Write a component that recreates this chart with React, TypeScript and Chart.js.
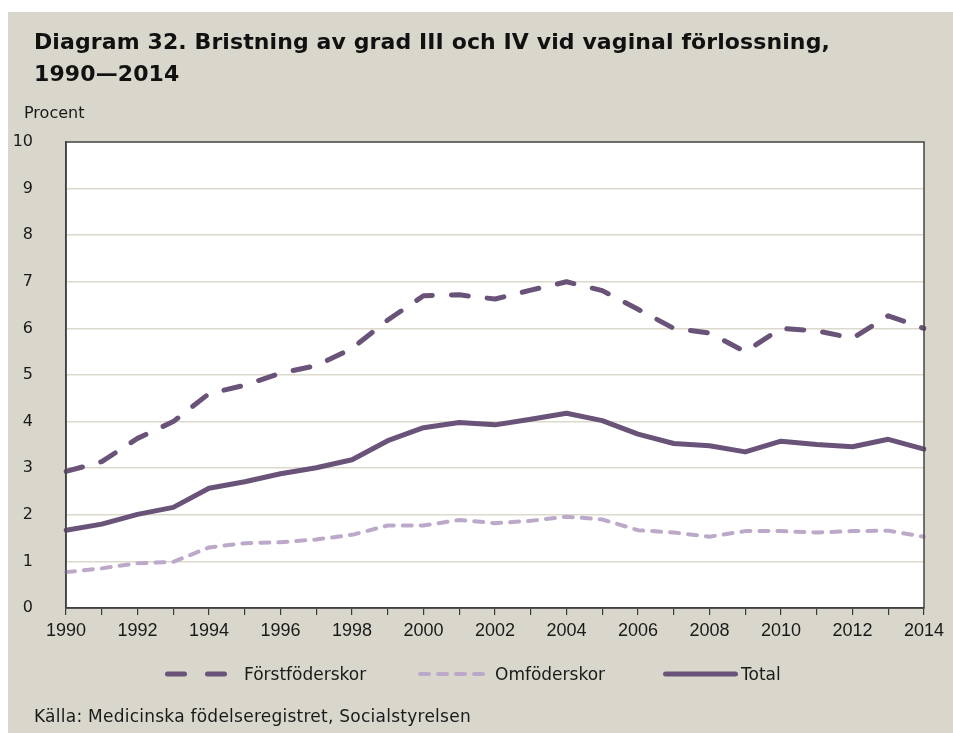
import React, { useEffect, useRef } from "react";
import { Chart, registerables } from "chart.js";

Chart.register(...registerables);

const years = [
  "1990", "1991", "1992", "1993", "1994", "1995", "1996", "1997", "1998", "1999",
  "2000", "2001", "2002", "2003", "2004", "2005", "2006", "2007", "2008", "2009",
  "2010", "2011", "2012", "2013", "2014",
];
const forstfoderskor = [
  2.93, 3.14, 3.64, 4.0, 4.6, 4.78, 5.04, 5.2, 5.57, 6.18,
  6.7, 6.72, 6.63, 6.82, 7.0, 6.81, 6.41, 6.0, 5.9, 5.5,
  6.0, 5.95, 5.79, 6.27, 6.0,
];
const omfoderskor = [
  0.77, 0.85, 0.96, 0.99, 1.3, 1.39, 1.41, 1.47, 1.57, 1.77,
  1.77, 1.89, 1.82, 1.87, 1.96, 1.9, 1.67, 1.62, 1.53, 1.65,
  1.65, 1.62, 1.65, 1.66, 1.53,
];
const total = [
  1.67, 1.8, 2.01, 2.16, 2.57, 2.71, 2.88, 3.01, 3.18, 3.59,
  3.87, 3.98, 3.93, 4.05, 4.18, 4.02, 3.73, 3.53, 3.48, 3.35,
  3.58, 3.51, 3.46, 3.62, 3.41,
];
const seriesNames = ["Förstföderskor", "Omföderskor", "Total"];
const yMin = 0;
const yMax = 10;
const yStep = 1;

const DARK = "#6a5379";
const LIGHT = "#bca9c9";
const BEIGE = "#d9d7cb";
const FONT = "'DejaVu Sans', sans-serif";
const XFONT = "'Liberation Sans', Arial, sans-serif";

const plotAreaPlugin = {
  id: "plotArea",
  beforeDraw(chart: any) {
    const { ctx, chartArea } = chart;
    ctx.save();
    ctx.fillStyle = "#ffffff";
    ctx.fillRect(chartArea.left, chartArea.top, chartArea.right - chartArea.left, chartArea.bottom - chartArea.top);
    ctx.restore();
  },
  afterDraw(chart: any) {
    const { ctx, chartArea } = chart;
    ctx.save();
    ctx.strokeStyle = "#444444";
    ctx.lineWidth = 1.5;
    ctx.strokeRect(chartArea.left, chartArea.top, chartArea.right - chartArea.left, chartArea.bottom - chartArea.top);
    ctx.restore();
  },
};

function LegendItem(props: { left: number; label: string; color: string; width: number; dash: string; lineLen: number; textLeft: number }) {
  return (
    <div style={{ position: "absolute", left: props.left, top: 662, height: 24, width: 300 }}>
      <svg width={props.lineLen + 10} height={24} style={{ position: "absolute", left: 0, top: 0 }}>
        <line
          x1={props.width / 2 + 1}
          y1={12}
          x2={props.lineLen - props.width / 2}
          y2={12}
          stroke={props.color}
          strokeWidth={props.width}
          strokeDasharray={props.dash}
          strokeLinecap="round"
        />
      </svg>
      <span
        style={{
          position: "absolute",
          left: props.textLeft,
          top: 1,
          fontFamily: FONT,
          fontSize: 17,
          color: "#1a1a1a",
          whiteSpace: "nowrap",
          lineHeight: "22px",
        }}
      >
        {props.label}
      </span>
    </div>
  );
}

export default function App() {
  const ref = useRef<HTMLCanvasElement>(null);

  useEffect(() => {
    if (!ref.current) return;
    const chart = new Chart(ref.current, {
      type: "line",
      data: {
        labels: years,
        datasets: [
          {
            label: seriesNames[0],
            data: forstfoderskor,
            borderColor: DARK,
            borderWidth: 5,
            borderDash: [17, 19],
            borderCapStyle: "round",
            borderJoinStyle: "round",
            pointRadius: 0,
            tension: 0,
            fill: false,
          },
          {
            label: seriesNames[1],
            data: omfoderskor,
            borderColor: LIGHT,
            borderWidth: 4,
            borderDash: [9, 9],
            borderCapStyle: "round",
            borderJoinStyle: "round",
            pointRadius: 0,
            tension: 0,
            fill: false,
          },
          {
            label: seriesNames[2],
            data: total,
            borderColor: DARK,
            borderWidth: 5,
            borderCapStyle: "round",
            borderJoinStyle: "round",
            pointRadius: 0,
            tension: 0,
            fill: false,
          },
        ],
      },
      options: {
        animation: false,
        responsive: false,
        maintainAspectRatio: false,
        layout: { padding: { left: 0, right: 29, top: 130, bottom: 0 } },
        plugins: {
          legend: { display: false },
          title: { display: false },
          tooltip: { enabled: false },
        },
        scales: {
          x: {
            type: "category",
            offset: false,
            grid: {
              display: true,
              drawOnChartArea: false,
              drawTicks: true,
              tickLength: 7,
              color: "#3a3a3a",
              lineWidth: 1.2,
            },
            border: { display: true, color: "#333333", width: 1.5 },
            ticks: {
              autoSkip: false,
              maxRotation: 0,
              minRotation: 0,
              padding: 5,
              color: "#1a1a1a",
              font: { family: XFONT, size: 18 },
              callback: (_v: any, i: number) => (i % 2 === 0 ? years[i] : ""),
            },
            afterFit: (s: any) => {
              s.height = 125;
            },
          },
          y: {
            min: yMin,
            max: yMax,
            ticks: {
              stepSize: yStep,
              padding: 33,
              color: "#1a1a1a",
              font: { family: FONT, size: 16 },
            },
            grid: { color: "#dcd9cc", lineWidth: 1.5, drawTicks: false },
            border: { display: true, color: "#333333", width: 1.5 },
            afterFit: (s: any) => {
              s.width = 58;
            },
          },
        },
      },
      plugins: [plotAreaPlugin],
    });
    return () => chart.destroy();
  }, []);

  return (
    <div>
      <div style={{ position: "absolute", left: 8, top: 12, width: 945, height: 721, background: BEIGE }} />
      <canvas
        ref={ref}
        width={945}
        height={721}
        style={{ position: "absolute", left: 8, top: 12, width: 945, height: 721 }}
      />
      <div
        style={{
          position: "absolute",
          left: 34,
          top: 26,
          fontFamily: FONT,
          fontWeight: "bold",
          fontSize: 22,
          letterSpacing: 0.1,
          lineHeight: "32px",
          color: "#111111",
          whiteSpace: "nowrap",
        }}
      >
        Diagram 32. Bristning av grad III och IV vid vaginal förlossning,
        <br />
        1990—2014
      </div>
      <div
        style={{
          position: "absolute",
          left: 24,
          top: 102,
          fontFamily: FONT,
          fontSize: 16,
          lineHeight: "22px",
          color: "#1a1a1a",
        }}
      >
        Procent
      </div>
      <LegendItem left={164} label={seriesNames[0]} color={DARK} width={5} dash="17 23" lineLen={68} textLeft={80} />
      <LegendItem left={417} label={seriesNames[1]} color={LIGHT} width={4} dash="9 9" lineLen={70} textLeft={78} />
      <LegendItem left={662} label={seriesNames[2]} color={DARK} width={5} dash="" lineLen={76} textLeft={79} />
      <div
        style={{
          position: "absolute",
          left: 34,
          top: 705,
          fontFamily: FONT,
          fontSize: 17,
          letterSpacing: 0.25,
          lineHeight: "22px",
          color: "#1a1a1a",
          whiteSpace: "nowrap",
        }}
      >
        Källa: Medicinska födelseregistret, Socialstyrelsen
      </div>
    </div>
  );
}
